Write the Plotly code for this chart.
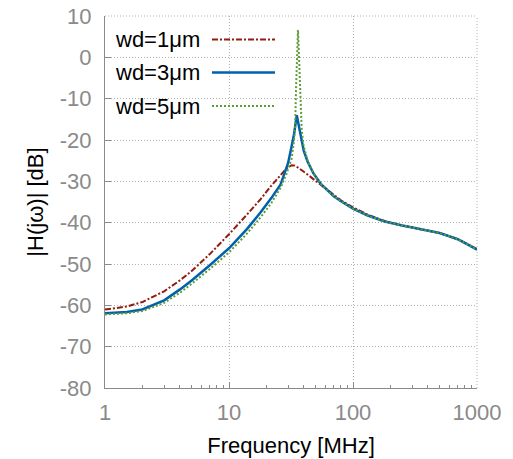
import plotly.graph_objects as go

# ---- data ----
freq_wd1 = [1, 1.5, 2, 3, 4, 5, 7, 10, 14, 18, 22, 26, 29, 32, 34, 37, 40, 45, 50, 55, 65, 80,
            100, 130, 180, 250, 350, 500, 700, 1000]
db_wd1 = [-61.0, -60.3, -59.2, -56.6, -54.0, -51.7, -47.6, -42.8, -38.0, -34.3, -31.0, -28.4, -26.9,
          -26.1, -26.2, -26.9, -27.6, -28.8, -29.9, -30.8, -32.5, -34.6,
          -36.3, -38.0, -39.6, -40.7, -41.5, -42.5, -44.0, -46.4]

freq_wd3 = [1, 1.5, 2, 3, 4, 5, 7, 10, 14, 18, 22, 26, 27.5, 30, 32, 33.5, 35.2, 36.5, 38, 40, 43,
            48, 55, 61, 70, 80, 100, 130, 180, 250, 350, 500, 700, 1000]
db_wd3 = [-61.9, -61.6, -61.0, -58.8, -56.2, -54.0, -50.3, -46.2, -41.5, -37.5, -34.0, -30.8, -28.8,
          -25.5, -21.5, -18.5, -14.0, -16.5, -19.8, -22.5, -25.2,
          -28.1, -30.6, -32.0, -33.6, -34.8, -36.6, -38.2, -39.7, -40.7, -41.5, -42.5, -44.0, -46.5]

freq_wd5 = [1, 1.5, 2, 3, 4, 5, 7, 10, 14, 18, 22, 26, 29, 32, 33, 34.1, 34.7, 35.2, 36, 36.7,
            37.6, 38.6, 40, 43, 48, 55, 61, 70, 80, 100, 130, 180, 250, 350, 500, 700, 1000]
db_wd5 = [-62.2, -61.9, -61.4, -59.4, -57.0, -54.8, -51.2, -47.2, -42.6, -38.7, -35.2, -31.6, -28.3,
          -24.5, -21.5, -17.6, -8.0, 0.0, 6.6, 0.0,
          -8.0, -17.6, -21.5, -25.0, -28.0, -30.6, -32.0, -33.6, -34.8, -36.6, -38.2, -39.7, -40.7,
          -41.5, -42.5, -44.0, -46.5]

series_names = ["wd=1μm", "wd=3μm", "wd=5μm"]
x_ticks = [1, 10, 100, 1000]
x_ticklabels = ["1", "10", "100", "1000"]
x_minor = [2, 3, 4, 5, 6, 7, 8, 9, 20, 30, 40, 50, 60, 70, 80, 90, 200, 300, 400, 500, 600, 700, 800, 900]
y_ticks = [-80, -70, -60, -50, -40, -30, -20, -10, 0, 10]
y_ticklabels = ["-80", "-70", "-60", "-50", "-40", "-30", "-20", "-10", "0", "10"]

RED = "#921c10"
BLUE = "#0060ad"
GREEN = "#5e9c36"
GRAY = "#8a8a8a"
GRID = "#b0b0b0"
FONT = "Liberation Sans, Arial, sans-serif"
FS = 22

fig = go.Figure()
fig.add_trace(go.Scatter(x=freq_wd1, y=db_wd1, mode="lines", name=series_names[0],
                         line=dict(color=RED, width=2, dash="6px,2px,2px,2px")))
fig.add_trace(go.Scatter(x=freq_wd3, y=db_wd3, mode="lines", name=series_names[1],
                         line=dict(color=BLUE, width=2.5)))
fig.add_trace(go.Scatter(x=freq_wd5, y=db_wd5, mode="lines", name=series_names[2],
                         line=dict(color=GREEN, width=2, dash="2px,2px")))

# legend drawn gnuplot-style: text on the left, sample on the right
leg_y = [0.9368, 0.848, 0.758]
leg_styles = [dict(color=RED, width=2, dash="6px,2px,2px,2px"),
              dict(color=BLUE, width=2.5),
              dict(color=GREEN, width=2, dash="2px,2px")]
for name, yy, st in zip(series_names, leg_y, leg_styles):
    fig.add_annotation(x=0.0215, y=yy, xref="paper", yref="paper", text=name, showarrow=False,
                       xanchor="left", yanchor="middle", font=dict(size=FS, color="black", family=FONT))
    fig.add_shape(type="line", xref="paper", yref="paper", x0=(212 - 105) / 372, x1=(275 - 105) / 372,
                  y0=yy, y1=yy, line=st)

# dotted top and right frame (grid lines at the range edges)
fig.add_shape(type="line", xref="paper", yref="paper", x0=0, x1=1, y0=1, y1=1,
              line=dict(color=GRID, width=1, dash="1px,2px"), layer="between")
fig.add_shape(type="line", xref="paper", yref="paper", x0=1, x1=1, y0=0, y1=1,
              line=dict(color=GRID, width=1, dash="1px,2px"), layer="between")

fig.update_layout(
    width=513, height=459,
    margin=dict(l=105, r=36, t=16, b=71, autoexpand=False),
    plot_bgcolor="white", paper_bgcolor="white",
    showlegend=False,
    font=dict(family=FONT, size=FS, color="black"),
)
fig.update_xaxes(
    type="log", range=[0, 3], tickvals=x_ticks, ticktext=x_ticklabels, automargin=False,
    showline=True, linecolor=GRAY, linewidth=1, mirror=False,
    ticks="inside", ticklen=6, tickcolor=GRAY,
    minor=dict(ticks="inside", ticklen=3, tickcolor=GRAY, showgrid=False, tickvals=x_minor),
    showgrid=True, gridcolor=GRID, gridwidth=1, griddash="1px,2px",
    tickfont=dict(size=FS, color=GRAY), zeroline=False, ticklabelstandoff=5,
    ticklabeloverflow="allow",
    title=dict(text="Frequency [MHz]", font=dict(size=FS, color="black"), standoff=13),
)
fig.update_yaxes(
    range=[-80, 10], tickvals=y_ticks, ticktext=y_ticklabels, automargin=False,
    showline=True, linecolor=GRAY, linewidth=1, mirror=False,
    ticks="inside", ticklen=6, tickcolor=GRAY,
    showgrid=True, gridcolor=GRID, gridwidth=1, griddash="1px,2px",
    tickfont=dict(size=FS, color=GRAY), zeroline=False, ticklabelstandoff=8,
    ticklabeloverflow="allow",
    title=dict(text="|H(jω)| [dB]", font=dict(size=FS, color="black"), standoff=10),
)

fig.write_html("out.html", config={"displayModeBar": False},
               post_script="document.body.style.margin='0';")
